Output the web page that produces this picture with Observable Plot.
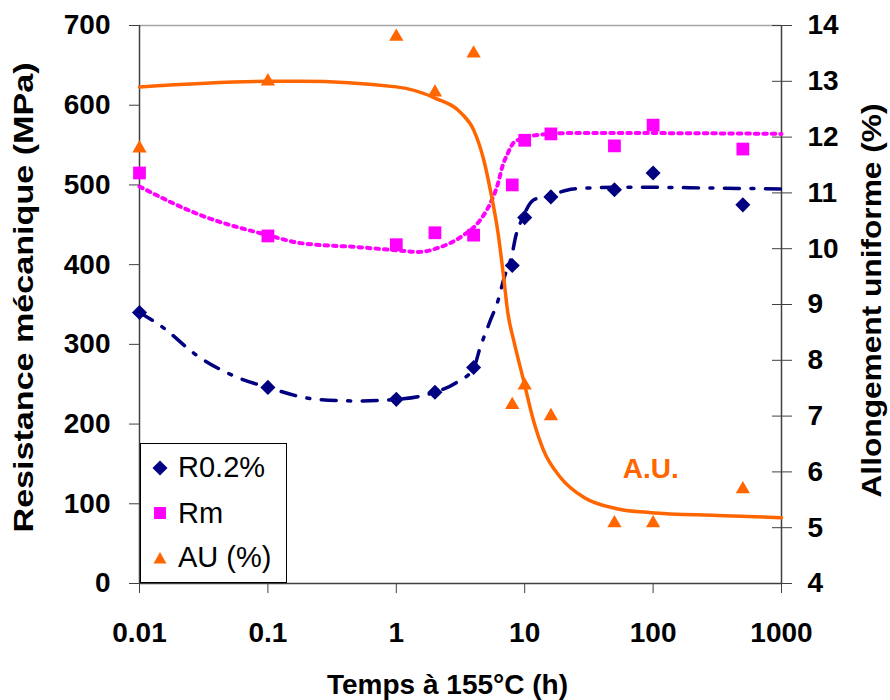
<!DOCTYPE html>
<html>
<head>
<meta charset="utf-8">
<script src="https://cdn.jsdelivr.net/npm/d3@7"></script>
<script src="https://cdn.jsdelivr.net/npm/@observablehq/plot@0.6"></script>
<style>
  body { margin: 0; background: #fff; }
  #wrap { position: relative; width: 890px; height: 700px; font-family: "Liberation Sans", Arial, sans-serif; }
  #legend { position: absolute; left: 140px; top: 443px; width: 145px; height: 138px; border: 1.5px solid #000; background: #fff; }
  #legend .row { position: absolute; left: 0; height: 40px; display: flex; align-items: center; font-size: 29px; color: #000; }
  #legend .row svg { margin-left: 8px; margin-right: 7px; }
</style>
</head>
<body>
<div id="wrap">
  <div id="chart"></div>
  <div id="legend"></div>
</div>
<script>
// ---- measured points ----
const times = [0.01, 0.1, 1, 2, 4, 8, 10, 16, 50, 100, 500];
const r02 = [340, 246, 231, 240, 271, 399, 459, 485, 494, 515, 475];
const rm  = [515, 436, 425, 440, 437, 500, 556, 564, 549, 575, 545];
const au  = [11.8, 13.0, 13.8, 12.8, 13.5, 7.2, 7.55, 7.0, 5.08, 5.08, 5.69];

// ---- fitted curves ----
const fitR02T = [0.01, 0.015, 0.028, 0.055, 0.1, 0.24, 0.5, 1, 2, 3, 4, 4.5, 5.4, 6.2, 6.9, 8, 8.5, 9.6, 11.7, 15.8, 24, 50, 100, 300, 1000];
const fitR02  = [340, 322, 286, 260, 246, 231, 229, 231, 240, 253, 270, 296, 330, 355, 383, 414, 435, 458, 481, 487, 495, 497, 497, 496, 495];

const fitRmT = [0.01, 0.03, 0.1, 0.18, 0.5, 1, 1.5, 2.2, 3.2, 4.5, 5.4, 6.2, 6.7, 7.4, 8.2, 9.8, 13.3, 21.5, 100, 1000];
const fitRm  = [498, 462, 437, 427, 422, 418, 416, 422, 435, 456, 477, 502, 523, 540, 553, 559, 563, 565, 565, 564];

const fitAUT = [0.01, 0.1, 0.18, 1, 2, 3.2, 4, 4.8, 5.4, 6.2, 6.8, 7.4, 8.2, 9.8, 11.7, 14, 19, 29, 52, 96, 316, 1000];
const fitAU  = [12.9, 13.0, 13.0, 12.9, 12.7, 12.43, 12.13, 11.59, 11.05, 10.28, 9.56, 8.84, 8.36, 7.64, 6.92, 6.39, 5.9, 5.54, 5.34, 5.27, 5.22, 5.18];

// ---- axes ----
const xTicks = [0.01, 0.1, 1, 10, 100, 1000];
const xTickLabels = ["0.01", "0.1", "1", "10", "100", "1000"];
const leftTicks = [0, 100, 200, 300, 400, 500, 600, 700];
const rightTicks = [4, 5, 6, 7, 8, 9, 10, 11, 12, 13, 14];
const leftDomain = [0, 700];
const rightDomain = [4, 14];
const xDomain = [0.01, 1000];

const xTitle = "Temps à 155°C (h)";
const yLeftTitle = "Resistance mécanique (MPa)";
const yRightTitle = "Allongement uniforme (%)";
const auLabel = [{t: 96, v: 6.06, text: "A.U."}];

const seriesNames = ["R0.2%", "Rm", "AU (%)"];
const colNavy = "#000080", colMag = "#FF00FF", colOrange = "#FF6600";

// map the right-axis (%) values onto the left scale
const k = (leftDomain[1] - leftDomain[0]) / (rightDomain[1] - rightDomain[0]);
const toLeft = v => (v - rightDomain[0]) * k + leftDomain[0];
const fromLeft = d => (d - leftDomain[0]) / k + rightDomain[0];

const pts = times.map((t, i) => ({t, r02: r02[i], rm: rm[i], au: toLeft(au[i])}));
const lineR02 = fitR02T.map((t, i) => ({t, v: fitR02[i]}));
const lineRm = fitRmT.map((t, i) => ({t, v: fitRm[i]}));
const lineAU = fitAUT.map((t, i) => ({t, v: toLeft(fitAU[i])}));

const axisCol = "#404040";

const chart = Plot.plot({
  width: 890,
  height: 700,
  marginLeft: 139,
  marginRight: 109,
  marginTop: 25,
  marginBottom: 117,
  style: {fontFamily: "'Liberation Sans', Arial, sans-serif", fontSize: "28px", fontWeight: "bold", background: "white", color: "black"},
  x: {type: "log", domain: xDomain},
  y: {domain: leftDomain},
  marks: [
    Plot.ruleY([leftDomain[1]], {stroke: "#a6a6a6", strokeWidth: 1.5}),
    Plot.ruleY([leftDomain[0]], {stroke: axisCol, strokeWidth: 1.5}),
    Plot.ruleX([xDomain[0]], {stroke: axisCol, strokeWidth: 1.5}),
    Plot.ruleX([xDomain[1]], {stroke: axisCol, strokeWidth: 1.5}),
    Plot.axisX({ticks: xTicks, tickFormat: d => xTickLabels[xTicks.indexOf(d)], tickSize: 10, tickPadding: 29, label: null, stroke: axisCol, fill: "black"}),
    Plot.axisY({anchor: "left", ticks: leftTicks, tickFormat: d => String(d), tickSize: 10, tickPadding: 19, label: null, stroke: axisCol, fill: "black"}),
    Plot.axisY({anchor: "right", ticks: rightTicks.map(toLeft), tickFormat: d => String(Math.round(fromLeft(d))), tickSize: 10, tickPadding: 16, label: null, stroke: axisCol, fill: "black"}),
    Plot.axisY({anchor: "right", ticks: rightTicks.map(toLeft), tickFormat: () => "", tickSize: 10, dx: -10, label: null, stroke: axisCol}),
    Plot.line(lineR02, {x: "t", y: "v", stroke: colNavy, strokeWidth: 3.5, strokeDasharray: "15,11.5,3,11.5", curve: "monotone-x"}),
    Plot.line(lineRm, {x: "t", y: "v", stroke: colMag, strokeWidth: 4, strokeDasharray: "3.5,5", curve: "monotone-x"}),
    Plot.line(lineAU, {x: "t", y: "v", stroke: colOrange, strokeWidth: 3.5, curve: "monotone-x"}),
    Plot.dot(pts, {x: "t", y: "r02", symbol: "diamond2", fill: colNavy, r: 6.8}),
    Plot.dot(pts, {x: "t", y: "rm", symbol: "square", fill: colMag, r: 7.2}),
    Plot.dot(pts, {x: "t", y: "au", symbol: "triangle", fill: colOrange, r: 5.3}),
    Plot.text(auLabel, {x: "t", y: d => toLeft(d.v), text: "text", fill: colOrange, fontSize: 28, fontWeight: "bold"}),
    Plot.text([xTitle], {text: d => d, frameAnchor: "bottom", textAnchor: "middle", dx: -13, dy: 110, lineAnchor: "bottom", fill: "black"}),
    Plot.text([yLeftTitle], {text: d => d, frameAnchor: "left", textAnchor: "middle", lineAnchor: "middle", dx: -115, dy: -7, rotate: -90, fill: "black"}),
    Plot.text([yRightTitle], {text: d => d, frameAnchor: "right", textAnchor: "middle", lineAnchor: "middle", dx: 91, dy: -4, rotate: -90, fill: "black"})
  ]
});
document.getElementById("chart").appendChild(chart);

// stretch the rotated titles to their length in the reference
d3.select(chart).selectAll("text").each(function () {
  if (this.textContent === yLeftTitle) { this.setAttribute("textLength", 470); this.setAttribute("lengthAdjust", "spacingAndGlyphs"); }
  if (this.textContent === yRightTitle) { this.setAttribute("textLength", 394); this.setAttribute("lengthAdjust", "spacingAndGlyphs"); }
});

// legend
const legendSymbols = [
  `<svg width="22" height="22"><path d="M11,3.5L18.5,11L11,18.5L3.5,11Z" fill="${colNavy}"/></svg>`,
  `<svg width="22" height="22"><rect x="5" y="5" width="12" height="12" fill="${colMag}"/></svg>`,
  `<svg width="22" height="22"><path d="M11,5L17.5,16.5L4.5,16.5Z" fill="${colOrange}"/></svg>`
];
const rowTops = [3.5, 49, 93.5];
const legend = document.getElementById("legend");
seriesNames.forEach((name, i) => {
  const row = document.createElement("div");
  row.className = "row";
  row.style.top = rowTops[i] + "px";
  row.innerHTML = legendSymbols[i] + `<span>${name}</span>`;
  legend.appendChild(row);
});
</script>
</body>
</html>
